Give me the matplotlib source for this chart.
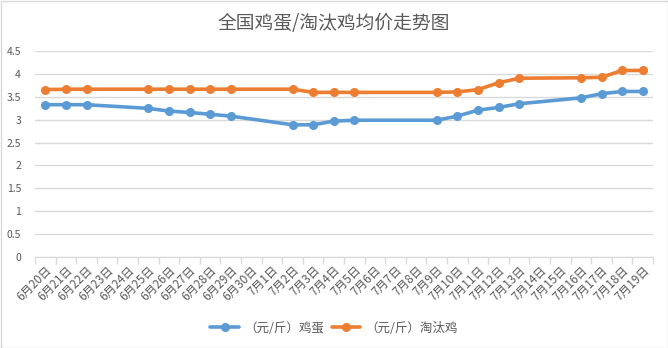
import matplotlib
matplotlib.use("Agg")
import matplotlib.pyplot as plt
from matplotlib.patches import Rectangle

plt.rcParams["font.family"] = ["Noto Sans CJK SC", "DejaVu Sans"]

# full date axis (6/20 - 7/19)
all_days = [f"6月{d}日" for d in range(20, 31)] + [f"7月{d}日" for d in range(1, 20)]

# dates with prices
dates = ["6月20日", "6月21日", "6月22日", "6月25日", "6月26日", "6月27日", "6月28日",
         "6月29日", "7月2日", "7月3日", "7月4日", "7月5日", "7月9日", "7月10日",
         "7月11日", "7月12日", "7月13日", "7月16日", "7月17日", "7月18日", "7月19日"]
egg = [3.33, 3.33, 3.33, 3.25, 3.19, 3.16, 3.12, 3.08, 2.89, 2.89, 2.97, 2.99,
       2.99, 3.08, 3.21, 3.27, 3.35, 3.48, 3.57, 3.62, 3.62]
hen = [3.66, 3.67, 3.67, 3.67, 3.67, 3.67, 3.67, 3.67, 3.67, 3.60, 3.60, 3.60,
       3.60, 3.61, 3.66, 3.81, 3.91, 3.92, 3.93, 4.08, 4.08]

series_labels = ["（元/斤）鸡蛋", "（元/斤）淘汰鸡"]
colors = ["#5B9BD5", "#ED7D31"]
text_color = "#595959"
grid_color = "#D9D9D9"

xs = [all_days.index(d) for d in dates]

fig = plt.figure(figsize=(6.68, 3.48), dpi=100)
ax = fig.add_axes([35 / 668, 1 - 256.7 / 348, 618 / 668, 205.4 / 348])

for vals, lab, c in zip([egg, hen], series_labels, colors):
    ax.plot(xs, vals, color=c, linewidth=2.6, marker="o", markersize=5.5,
            label=lab, solid_capstyle="round")

ax.set_xlim(-0.5, len(all_days) - 0.5)
ax.set_ylim(0, 4.5)
ax.set_yticks([0, 0.5, 1, 1.5, 2, 2.5, 3, 3.5, 4, 4.5])
ax.set_yticklabels(["0", "0.5", "1", "1.5", "2", "2.5", "3", "3.5", "4", "4.5"])
ax.yaxis.grid(True, color=grid_color, linewidth=1)
ax.set_axisbelow(True)

ax.set_xticks(range(len(all_days)))
ax.set_xticklabels(all_days, rotation=45, ha="right", rotation_mode="anchor")
ax.set_xticks([i - 0.5 for i in range(len(all_days) + 1)], minor=True)
ax.tick_params(axis="x", which="major", length=0, pad=5, labelsize=8.5, labelcolor=text_color)
ax.tick_params(axis="x", which="minor", length=5, color=grid_color, width=1)
ax.tick_params(axis="y", length=0, pad=10, labelsize=7.5, labelcolor=text_color)

for s in ["top", "right", "left"]:
    ax.spines[s].set_visible(False)
ax.spines["bottom"].set_color(grid_color)

fig.text(0.5, 1 - 24 / 348, "全国鸡蛋/淘汰鸡均价走势图", ha="center", va="center",
         fontsize=13.5, color=text_color)

fig.legend(loc="center", bbox_to_anchor=(0.5, 1 - 328 / 348), ncol=2, frameon=False,
           fontsize=9, labelcolor=text_color, handlelength=2.3, handletextpad=0.4,
           columnspacing=0.6)

fig.patches.append(Rectangle((0.5 / 668, 0.5 / 348), 1 - 1 / 668, 1 - 1 / 348,
                             transform=fig.transFigure, fill=False,
                             edgecolor=grid_color, linewidth=1))

fig.savefig("out.png", dpi=100, facecolor="white")
